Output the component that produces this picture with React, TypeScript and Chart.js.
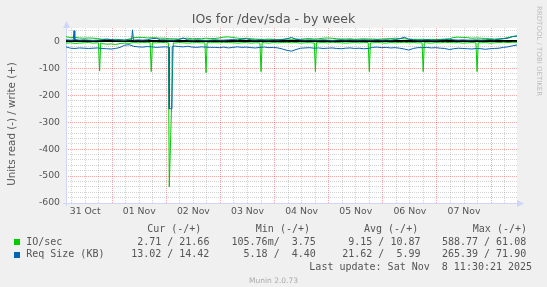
import React, { useEffect, useRef } from 'react';
import { Chart, registerables } from 'chart.js';

Chart.register(...registerables);

// ---- data (hours counted from 31 Oct 00:00) ----
const dayLabels = ['31 Oct', '01 Nov', '02 Nov', '03 Nov', '04 Nov', '05 Nov', '06 Nov', '07 Nov'];
const startHour = 3.5;
const endHour = 203.5;
const sampleHours = Array.from({ length: 101 }, (_, i) => startHour + 2 * i);

const ioWrite = [
  18, 14, 15, 13, 12, 13, 12, 11,
  8, 9, 7, 8, 6, 5, 9,
  14, 15, 15, 13, 14, 13, 12, 12,
  10, 10, 9, 11, 12, 10, 11, 10, 12, 11,
  11, 13, 16, 17, 15, 12, 11, 12, 10, 9, 8, 8, 9, 8, 7, 8, 9, 8, 9, 8,
  10, 11, 9, 10, 12, 13, 12, 10, 9, 9, 10, 8, 9, 10, 9,
  9, 8, 9, 10, 11, 12, 11, 10, 9, 8, 8,
  8, 7, 8, 7, 8, 9, 10,
  15, 16, 15, 14,
  12, 13, 12, 11, 10, 9,
  10, 11, 15, 18, 21,
];

const ioRead = [
  -6, -5, -7, -6, -5, -4, -6, -5,
  -8, -10, -9, -11, -8, -6, -7,
  -4, -5, -4, -3, -4, -5, -4, -4,
  -5, -6, -4, -5, -6, -5, -4, -5, -6, -5,
  -4, -5, -3, -4, -5, -6, -5, -4, -6, -5, -4, -5, -6, -4, -5, -4, -3, -5, -4, -6,
  -5, -4, -6, -5, -4, -5, -3, -4, -5, -6, -5, -4, -5, -4, -6,
  -5, -4, -5, -6, -4, -5, -4, -3, -5, -4, -5,
  -4, -5, -6, -4, -5, -3, -4, -5, -4, -6, -5, -4, -3, -5, -4, -6, -5, -4, -3, -4, -3, -3,
];

const reqRead = [
  -20, -25, -26, -24, -25, -26, -25, -24,
  -26, -27, -28, -26, -22, -14, -12,
  -18, -20, -21, -19, -20, -22, -21, -20,
  -18, -17, -19, -20, -18, -21, -22, -20, -21, -22,
  -22, -23, -21, -24, -22, -20, -22, -21, -23, -24, -22, -21, -23, -22, -24, -28, -33, -36, -30, -25,
  -24, -23, -25, -24, -26, -25, -24, -26, -27, -25, -24, -26, -25, -27, -26,
  -22, -21, -23, -22, -24, -23, -25, -28, -32, -26, -23,
  -23, -22, -24, -23, -25, -26, -30, -27, -25, -26, -27, -28, -26, -27, -29, -27, -26, -25, -22, -20, -16, -13,
];

const reqWrite = [
  6, 5, 7, 5, 6, 5, 4, 5,
  6, 8, 7, 5, 6, 5, 6,
  5, 6, 5, 6, 10, 12, 6, 6,
  5, 5, 7, 13, 6, 5, 6, 5, 4, 5,
  6, 5, 5, 6, 7, 6, 8, 10, 6, 5, 6, 5, 5, 6, 5, 7, 10, 15, 8, 6,
  5, 6, 5, 5, 6, 5, 4, 5, 6, 5, 6, 5, 5, 6, 5,
  5, 6, 5, 6, 5, 7, 10, 16, 8, 6, 5,
  5, 6, 5, 5, 6, 7, 8, 6, 5, 6, 5, 5, 6, 5, 6, 7, 6, 8, 10, 12, 18, 20,
];

// short spikes: [hour, value] runs
const ioReadSpikes: [number, number][][] = [
  [[17.9, -6], [18.4, -110], [18.9, -5]],
  [[40.8, -4], [41.3, -112], [41.8, -5]],
  [[48.9, -5], [49.3, -540], [51.1, -5]],
  [[65.1, -5], [65.6, -116], [66.1, -4]],
  [[89.5, -5], [90.0, -112], [90.5, -4]],
  [[113.6, -5], [114.1, -112], [114.6, -4]],
  [[137.5, -4], [138.0, -112], [138.5, -5]],
  [[161.4, -5], [161.9, -112], [162.4, -4]],
  [[185.3, -5], [185.8, -112], [186.3, -4]],
];
const reqReadSpikes: [number, number][][] = [
  [[49.2, -21], [49.3, -250], [50.5, -250], [50.6, -19]],
];
const reqWriteSpikes: [number, number][][] = [
  [[6.7, 5], [7.05, 40], [7.4, 5]],
  [[32.6, 6], [33.0, 43], [33.4, 6]],
];

// legend
const legendNames = ['IO/sec', 'Req Size (KB)'];
const seriesColors = ['#00CC00', '#0066B3'];
const curValues = ['2.71 / 21.66', '13.02 / 14.42'];
const minValues = ['105.76m/  3.75', '5.18 /  4.40'];
const avgValues = ['9.15 / 10.87', '21.62 /  5.99'];
const maxValues = ['588.77 / 61.08', '265.39 / 71.90'];
const columnHeaders = ['Cur (-/+)', 'Min (-/+)', 'Avg (-/+)', 'Max (-/+)'];
const lastUpdate = 'Last update: Sat Nov  8 11:30:21 2025';

function buildSeries(values: number[], spikes: [number, number][][]) {
  let pts = sampleHours.map((h, i) => ({ x: h, y: values[i] }));
  for (const g of spikes) {
    const a = g[0][0];
    const b = g[g.length - 1][0];
    pts = pts.filter((p) => p.x < a || p.x > b);
    for (const [x, y] of g) pts.push({ x, y });
  }
  pts.sort((p, q) => p.x - q.x);
  return pts;
}

const GRID_MINOR = 'rgba(140,140,140,0.38)';
const GRID_MAJOR = 'rgba(255,30,30,0.4)';
const FONT_COLOR = '#555555';

const muninPlugin = {
  id: 'munin',
  beforeDraw(chart: any) {
    const { ctx, chartArea: a } = chart;
    ctx.save();
    ctx.fillStyle = '#FFFFFF';
    ctx.fillRect(a.left, a.top, a.right - a.left, a.bottom - a.top);
    ctx.restore();
  },
  beforeDatasetsDraw(chart: any) {
    const { ctx, chartArea: a, scales } = chart;
    ctx.save();
    ctx.strokeStyle = '#CFD6F8';
    ctx.fillStyle = '#CFD6F8';
    ctx.lineWidth = 1;
    const by = Math.round(a.bottom) + 0.5;
    const lx = Math.round(a.left) + 0.5;
    ctx.beginPath();
    ctx.moveTo(a.left - 3, by);
    ctx.lineTo(a.right, by);
    ctx.stroke();
    ctx.beginPath();
    ctx.moveTo(a.right, by - 3.5);
    ctx.lineTo(a.right + 7, by);
    ctx.lineTo(a.right, by + 3.5);
    ctx.closePath();
    ctx.fill();
    ctx.beginPath();
    ctx.moveTo(lx, a.bottom + 3);
    ctx.lineTo(lx, a.top);
    ctx.stroke();
    ctx.beginPath();
    ctx.moveTo(lx - 3.5, a.top);
    ctx.lineTo(lx, a.top - 7);
    ctx.lineTo(lx + 3.5, a.top);
    ctx.closePath();
    ctx.fill();
    const z = Math.round(scales.y.getPixelForValue(0));
    ctx.fillStyle = '#000000';
    ctx.fillRect(a.left, z - 1, a.right - a.left, 2);
    ctx.restore();
  },
};

export default function App() {
  const ref = useRef<HTMLCanvasElement | null>(null);

  useEffect(() => {
    if (!ref.current) return;
    const tickFont = { family: 'DejaVu Sans', size: 9.3 };
    const chart = new Chart(ref.current, {
      type: 'line',
      data: {
        datasets: [
          { label: 'Req Size write', data: buildSeries(reqWrite, reqWriteSpikes), borderColor: seriesColors[1] },
          { label: 'Req Size read', data: buildSeries(reqRead, reqReadSpikes), borderColor: seriesColors[1] },
          { label: 'IO/sec write', data: buildSeries(ioWrite, []), borderColor: seriesColors[0] },
          { label: 'IO/sec read', data: buildSeries(ioRead, ioReadSpikes), borderColor: seriesColors[0] },
        ].map((d) => ({ ...d, borderWidth: 1, pointRadius: 0, tension: 0, fill: false })) as any,
      },
      options: {
        animation: false,
        responsive: false,
        devicePixelRatio: 1,
        layout: { padding: { left: 0, top: 28, right: 30, bottom: 64 } },
        plugins: { legend: { display: false }, tooltip: { enabled: false }, title: { display: false } },
        scales: {
          x: {
            type: 'linear',
            min: startHour,
            max: endHour,
            afterFit: (s: any) => { s.height = 20; },
            ticks: {
              stepSize: 6,
              includeBounds: false,
              autoSkip: false,
              maxRotation: 0,
              minRotation: 0,
              padding: 3,
              color: FONT_COLOR,
              font: tickFont,
              callback: (v: any) => {
                const n = Number(v);
                if ((n - 12) % 24 === 0) return dayLabels[(n - 12) / 24] ?? '';
                return '';
              },
            },
            grid: {
              drawTicks: false,
              lineWidth: 1,
              color: (c: any) => (c.tick && c.tick.value % 24 === 0 ? GRID_MAJOR : GRID_MINOR),
            },
            border: { display: false, dash: [1, 1] },
          },
          y: {
            type: 'linear',
            min: -600,
            max: 50,
            afterFit: (s: any) => { s.width = 66; },
            ticks: {
              stepSize: 20,
              maxTicksLimit: 1000,
              includeBounds: false,
              autoSkip: false,
              padding: 6,
              color: FONT_COLOR,
              font: tickFont,
              callback: (v: any) => (Number(v) % 100 === 0 ? String(v) : ''),
            },
            grid: {
              drawTicks: false,
              lineWidth: 1,
              color: (c: any) => {
                if (!c.tick) return GRID_MINOR;
                if (c.tick.value === -600) return 'rgba(0,0,0,0)';
                return c.tick.value % 100 === 0 ? GRID_MAJOR : GRID_MINOR;
              },
            },
            border: { display: false, dash: [1, 1] },
          },
        },
      },
      plugins: [muninPlugin],
    });
    return () => chart.destroy();
  }, []);

  const mono: React.CSSProperties = {
    position: 'absolute',
    fontFamily: '"DejaVu Sans Mono", monospace',
    fontSize: 10,
    lineHeight: '12px',
    whiteSpace: 'pre',
    color: FONT_COLOR,
  };
  const headerLeft = [147.2, 255.8, 364, 472.8];
  const rowTops = [235.7, 248.2];
  const colRight = [209.4, 315.8, 420.5, 526.2];

  return (
    <div style={{ position: 'absolute', left: 0, top: 0, width: 547, height: 287, background: '#F0F0F0', overflow: 'hidden' }}>
      <canvas ref={ref} width={547} height={287} style={{ position: 'absolute', left: 0, top: 0, display: 'block' }} />
      <div style={{ position: 'absolute', left: 0, top: 10.5, width: 547, textAlign: 'center', fontFamily: '"DejaVu Sans", sans-serif', fontSize: 12.5, lineHeight: '15px', color: FONT_COLOR, whiteSpace: 'pre' }}>
        IOs for /dev/sda - by week
      </div>
      <div style={{ position: 'absolute', left: 10.5 - 100, top: 124 - 6, width: 200, height: 12, textAlign: 'center', fontFamily: '"DejaVu Sans", sans-serif', fontSize: 10.3, lineHeight: '12px', color: FONT_COLOR, whiteSpace: 'pre', transform: 'rotate(-90deg)', transformOrigin: '50% 50%' }}>
        Units read (-) / write (+)
      </div>
      <div style={{ position: 'absolute', left: 535, top: 6, writingMode: 'vertical-rl', fontFamily: '"DejaVu Sans", sans-serif', fontSize: 7, lineHeight: '8px', color: '#BDBDBD', whiteSpace: 'pre' }}>
        RRDTOOL / TOBI OETIKER
      </div>
      {columnHeaders.map((h, i) => (
        <div key={h} style={{ ...mono, left: headerLeft[i], top: 222.8 }}>{h}</div>
      ))}
      {legendNames.map((name, r) => (
        <React.Fragment key={name}>
          <div style={{ position: 'absolute', left: 14, top: rowTops[r] + 3.3, width: 6, height: 6, background: seriesColors[r] }} />
          <div style={{ ...mono, left: 26.2, top: rowTops[r] }}>{name}</div>
          {[curValues[r], minValues[r], avgValues[r], maxValues[r]].map((v, c) => (
            <div key={c} style={{ ...mono, right: 547 - colRight[c], top: rowTops[r] }}>{v}</div>
          ))}
        </React.Fragment>
      ))}
      <div style={{ ...mono, right: 547 - 532.1, top: 260.5 }}>{lastUpdate}</div>
      <div style={{ position: 'absolute', left: 0, top: 275.5, width: 547, textAlign: 'center', fontFamily: '"DejaVu Sans", sans-serif', fontSize: 7.5, lineHeight: '9px', color: '#AAAAAA', whiteSpace: 'pre' }}>
        Munin 2.0.73
      </div>
    </div>
  );
}
